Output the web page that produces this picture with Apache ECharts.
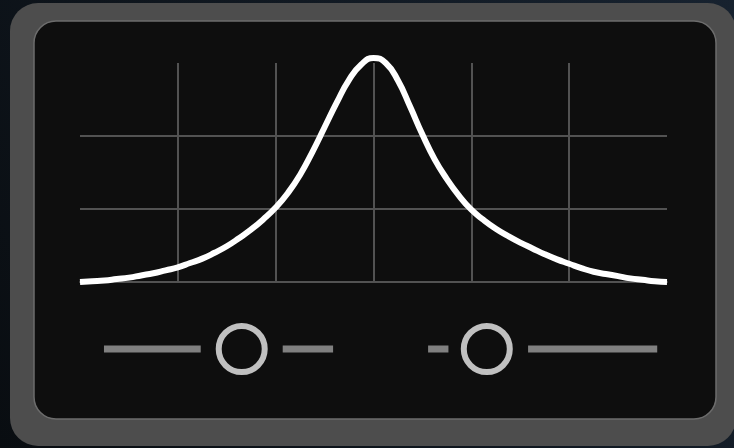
<!DOCTYPE html>
<html>
<head>
<meta charset="utf-8">
<script src="https://cdn.jsdelivr.net/npm/echarts@6/dist/echarts.min.js"></script>
<style>
  html, body { margin: 0; padding: 0; background: #0c1218; }
  #chart { width: 734px; height: 448px; }
</style>
</head>
<body>
<div id="chart"></div>
<script>
// curve samples, x in grid divisions (0..6), y in divisions (0..3)
const curveX = [0, 0.125, 0.25, 0.375, 0.5, 0.625, 0.75, 0.875, 1, 1.125, 1.25, 1.375,
                1.5, 1.625, 1.75, 1.875, 2, 2.125, 2.25, 2.375, 2.5, 2.625, 2.75, 2.875, 3,
                3.125, 3.25, 3.375, 3.5, 3.625, 3.75, 3.875, 4, 4.125, 4.25, 4.375,
                4.5, 4.625, 4.75, 4.875, 5, 5.125, 5.25, 5.375, 5.5, 5.625, 5.75, 5.875, 6];
const curveY = [0, 0.01, 0.02, 0.04, 0.06, 0.09, 0.12, 0.16, 0.2, 0.26, 0.32, 0.4,
                0.49, 0.6, 0.72, 0.86, 1.02, 1.22, 1.47, 1.78, 2.12, 2.46, 2.77, 2.98, 3.07,
                3.0, 2.76, 2.4, 2.02, 1.68, 1.41, 1.18, 0.99, 0.85, 0.73, 0.63,
                0.54, 0.46, 0.38, 0.31, 0.25, 0.19, 0.14, 0.11, 0.08, 0.05, 0.03, 0.01, 0];

// slider tracks (start, end) and knob positions, same x units
const leftTrack = [[0.245, 1.234], [2.072, 2.587]];
const rightTrack = [[3.558, 3.766], [4.58, 5.9]];
const knobs = [1.653, 4.158];

const chart = echarts.init(document.getElementById('chart'));

const gridLine = { color: '#525252', width: 2 };

const trackSeries = [...leftTrack, ...rightTrack].map(seg => ({
  type: 'line',
  xAxisIndex: 1,
  yAxisIndex: 1,
  data: seg.map(x => [x, 1]),
  showSymbol: false,
  silent: true,
  lineStyle: { color: '#808080', width: 7, cap: 'butt' }
}));

const option = {
  backgroundColor: {
    type: 'linear', x: 0, y: 1, x2: 1, y2: 0,
    colorStops: [{ offset: 0, color: '#090d11' }, { offset: 1, color: '#17222f' }]
  },
  animation: false,
  graphic: [
    {
      type: 'rect', z: -10,
      shape: { x: 10, y: 3, width: 726, height: 443, r: 28 },
      style: { fill: '#4d4d4d' }
    },
    {
      type: 'rect', z: -9,
      shape: { x: 34, y: 21, width: 682, height: 398, r: 22 },
      style: { fill: '#0e0e0e', stroke: '#6c6c6c', lineWidth: 1.5 }
    }
  ],
  grid: [
    { left: 80, right: 67, top: 63, bottom: 166 },
    { left: 80, right: 67, top: 339, bottom: 89 }
  ],
  xAxis: [
    {
      type: 'value', min: 0, max: 6, interval: 1,
      axisLine: { show: true, lineStyle: gridLine },
      axisTick: { show: false },
      axisLabel: { show: false },
      splitLine: { show: true, showMinLine: false, showMaxLine: false, lineStyle: gridLine }
    },
    {
      type: 'value', gridIndex: 1, min: 0, max: 6,
      axisLine: { show: false }, axisTick: { show: false },
      axisLabel: { show: false }, splitLine: { show: false }
    }
  ],
  yAxis: [
    {
      type: 'value', min: 0, max: 3, interval: 1,
      axisLine: { show: false },
      axisTick: { show: false },
      axisLabel: { show: false },
      splitLine: { show: true, showMinLine: false, showMaxLine: false, lineStyle: gridLine }
    },
    {
      type: 'value', gridIndex: 1, min: 0, max: 2,
      axisLine: { show: false }, axisTick: { show: false },
      axisLabel: { show: false }, splitLine: { show: false }
    }
  ],
  series: [
    {
      type: 'line',
      data: curveX.map((x, i) => [x, curveY[i]]),
      smooth: 0.5,
      clip: false,
      showSymbol: false,
      silent: true,
      z: 5,
      lineStyle: { color: '#ffffff', width: 6, cap: 'butt' }
    },
    ...trackSeries,
    {
      type: 'scatter',
      xAxisIndex: 1,
      yAxisIndex: 1,
      data: knobs.map(x => [x, 1]),
      symbol: 'circle',
      symbolSize: 46,
      silent: true,
      z: 6,
      itemStyle: { color: '#0e0e0e', borderColor: '#c0c0c0', borderWidth: 6, opacity: 1 }
    }
  ]
};

chart.setOption(option);
</script>
</body>
</html>
